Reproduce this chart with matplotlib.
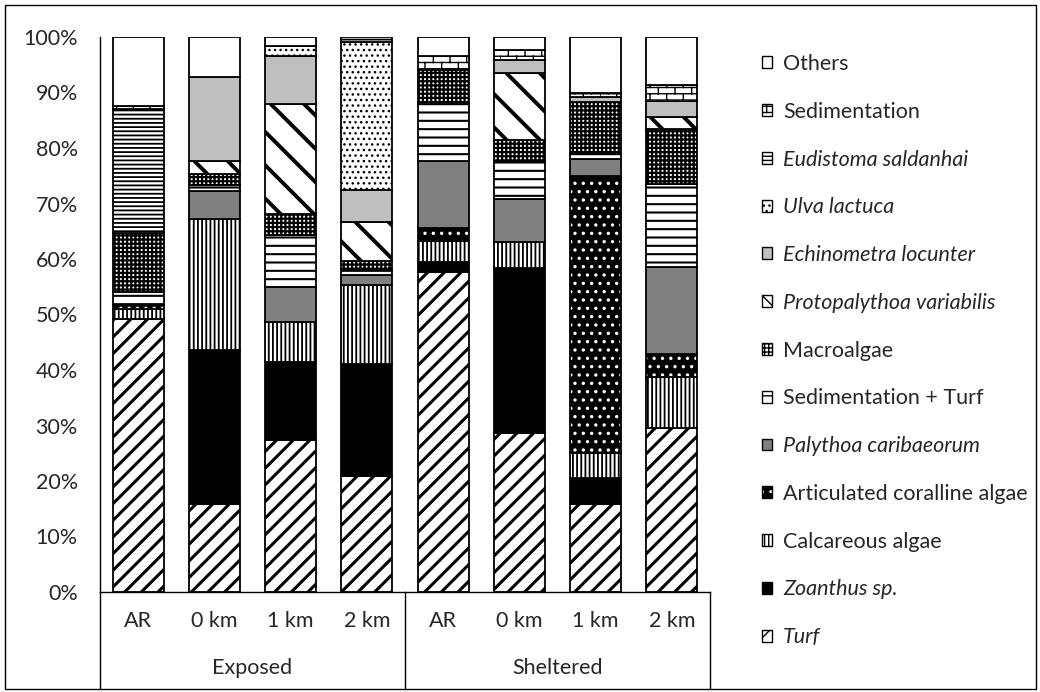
import numpy as np
import matplotlib as mpl
import matplotlib.pyplot as plt
import matplotlib.hatch as mhatch
import matplotlib.transforms as mtrans
from matplotlib.path import Path
from matplotlib.patches import Patch, Rectangle
from matplotlib.legend_handler import HandlerTuple

sites = ["AR", "0 km", "1 km", "2 km", "AR", "0 km", "1 km", "2 km"]
groups = ["Exposed", "Sheltered"]

# percent cover per site, bottom of the stack first
turf = [49.2, 15.9, 27.4, 20.9, 57.7, 28.6, 15.9, 29.5]
zoanthus = [0.0, 27.7, 14.0, 20.2, 1.8, 29.7, 4.6, 0.0]
calcareous = [1.8, 23.6, 7.3, 14.2, 3.8, 4.7, 4.5, 9.2]
articulated = [0.7, 0.0, 0.0, 0.0, 2.2, 0.0, 50.0, 4.2]
palythoa = [0.0, 5.1, 6.3, 1.9, 12.2, 7.8, 3.0, 15.7]
sed_turf = [2.3, 1.0, 9.3, 0.9, 10.2, 6.6, 1.0, 15.0]
macroalgae = [10.6, 2.0, 3.8, 1.5, 6.2, 4.0, 9.2, 9.9]
protopalythoa = [0.0, 2.4, 19.8, 7.0, 0.0, 12.2, 0.0, 2.1]
echinometra = [0.0, 15.1, 8.6, 5.8, 0.0, 2.3, 1.0, 2.9]
ulva = [0.0, 0.0, 1.9, 26.7, 0.0, 0.0, 0.0, 0.0]
eudistoma = [22.4, 0.0, 0.0, 0.9, 0.0, 0.0, 0.0, 0.0]
sedimentation = [0.5, 0.0, 0.0, 0.0, 2.4, 1.8, 0.8, 2.9]
others = [12.5, 7.2, 1.6, 0.0, 3.5, 2.3, 10.0, 8.6]


# brick pattern for "Sedimentation" (hatch char 'b')
class BrickHatch(mhatch.HatchPatternBase):
    def __init__(self, hatch, density):
        self.rows = 16
        self.cols = 6
        if 'b' in hatch:
            self.num_vertices = self.rows * 2 + self.rows * self.cols * 2
        else:
            self.num_vertices = 0

    def set_vertices_and_codes(self, vertices, codes):
        k = 0
        for i in range(self.rows):
            y0 = i / self.rows
            y1 = (i + 1) / self.rows
            vertices[k] = (0, y0)
            vertices[k + 1] = (1, y0)
            codes[k] = Path.MOVETO
            codes[k + 1] = Path.LINETO
            k += 2
            for j in range(self.cols):
                xx = (j + 0.5 * (i % 2)) / self.cols
                vertices[k] = (xx, y0)
                vertices[k + 1] = (xx, y1)
                codes[k] = Path.MOVETO
                codes[k + 1] = Path.LINETO
                k += 2


mhatch._hatch_types.append(BrickHatch)

plt.rcParams['font.family'] = ['Lato', 'DejaVu Sans']
txt_col = '#262626'
fs = 15.5

# label, italic, face, hatch colour, hatch, hatch linewidth
styles = [
    ("Turf", True, 'white', 'black', '//', 2.2),
    ("Zoanthus sp.", True, 'black', 'black', None, 1.0),
    ("Calcareous algae", False, 'white', 'black', '||||', 1.3),
    ("Articulated coralline algae", False, 'black', 'white', '..', 1.2),
    ("Palythoa caribaeorum", True, '#808080', '#808080', None, 1.0),
    ("Sedimentation + Turf", False, 'white', 'black', '--', 1.5),
    ("Macroalgae", False, 'white', 'black', '++++', 1.6),
    ("Protopalythoa variabilis", True, 'white', 'black', '\\', 2.8),
    ("Echinometra locunter", True, '#bfbfbf', '#bfbfbf', None, 1.0),
    ("Ulva lactuca", True, 'white', 'black', '...', 1.0),
    ("Eudistoma saldanhai", True, 'white', 'black', '----', 1.3),
    ("Sedimentation", False, 'white', 'black', 'b', 1.0),
    ("Others", False, 'white', 'white', None, 1.0),
]
series = [turf, zoanthus, calcareous, articulated, palythoa, sed_turf, macroalgae,
          protopalythoa, echinometra, ulva, eudistoma, sedimentation, others]

fig = plt.figure(figsize=(10.4, 6.92), dpi=100)
ax = fig.add_axes([100 / 1040, 100 / 692, 610 / 1040, 555 / 692])

x = np.arange(len(sites))
bottom = np.zeros(len(sites))
handles = []
for vals, (label, ital, fc, hc, h, hlw) in zip(series, styles):
    v = np.array(vals)
    m = v > 0
    with mpl.rc_context({'hatch.linewidth': hlw}):
        bars = ax.bar(x[m], v[m], bottom=bottom[m], width=0.67, color=fc,
                      edgecolor=hc, hatch=h, linewidth=0)
        hp = Patch(facecolor=fc, edgecolor=hc, hatch=h, linewidth=0)
    for b in list(bars) + [hp]:
        if hasattr(b, 'set_hatch_linewidth'):
            b.set_hatch_linewidth(hlw)
    ax.bar(x[m], v[m], bottom=bottom[m], width=0.67, fill=False,
           edgecolor='black', linewidth=1.3)
    bottom += v
    handles.append((hp, Patch(facecolor='none', edgecolor='black', linewidth=1.0)))

ax.set_xlim(-0.5, len(sites) - 0.5)
ax.set_ylim(0, 100)
ax.set_yticks(np.arange(0, 101, 10))
ax.set_yticklabels([f"{v}%" for v in range(0, 101, 10)], fontsize=fs, color=txt_col)
ax.tick_params(axis='y', length=0, pad=16)
ax.set_xticks([])
for s in ['top', 'right']:
    ax.spines[s].set_visible(False)
for s in ['left', 'bottom']:
    ax.spines[s].set_linewidth(1.0)

# two-level category axis
trans = mtrans.blended_transform_factory(ax.transData, ax.transAxes)
for i, s in enumerate(sites):
    ax.text(i, -0.052, s, transform=trans, ha='center', va='center',
            fontsize=fs, color=txt_col)
for g, gx in zip(groups, [1.5, 5.5]):
    ax.text(gx, -0.137, g, transform=trans, ha='center', va='center',
            fontsize=fs, color=txt_col)
for xv in [-0.5, 3.5, 7.5]:
    ax.plot([xv, xv], [0, -0.175], transform=trans, clip_on=False,
            color='black', linewidth=1.0)

labels = [st[0] for st in styles]
leg = fig.legend(handles[::-1], labels[::-1],
                 handler_map={tuple: HandlerTuple(ndivide=1, pad=0)},
                 loc='upper left', bbox_to_anchor=(762 / 1040, 1 - 54 / 692),
                 frameon=False, fontsize=fs, borderpad=0, borderaxespad=0,
                 handlelength=0.47, handleheight=0.47, handletextpad=0.5,
                 labelspacing=1.29)
for t, st in zip(leg.get_texts(), styles[::-1]):
    t.set_color(txt_col)
    if st[1]:
        t.set_style('italic')

# chart border
fig.patches.append(Rectangle((5 / 1040, 3 / 692), 1031 / 1040, 684 / 692,
                             transform=fig.transFigure, fill=False,
                             edgecolor='black', linewidth=1.0))

fig.savefig("out.png", dpi=100)
